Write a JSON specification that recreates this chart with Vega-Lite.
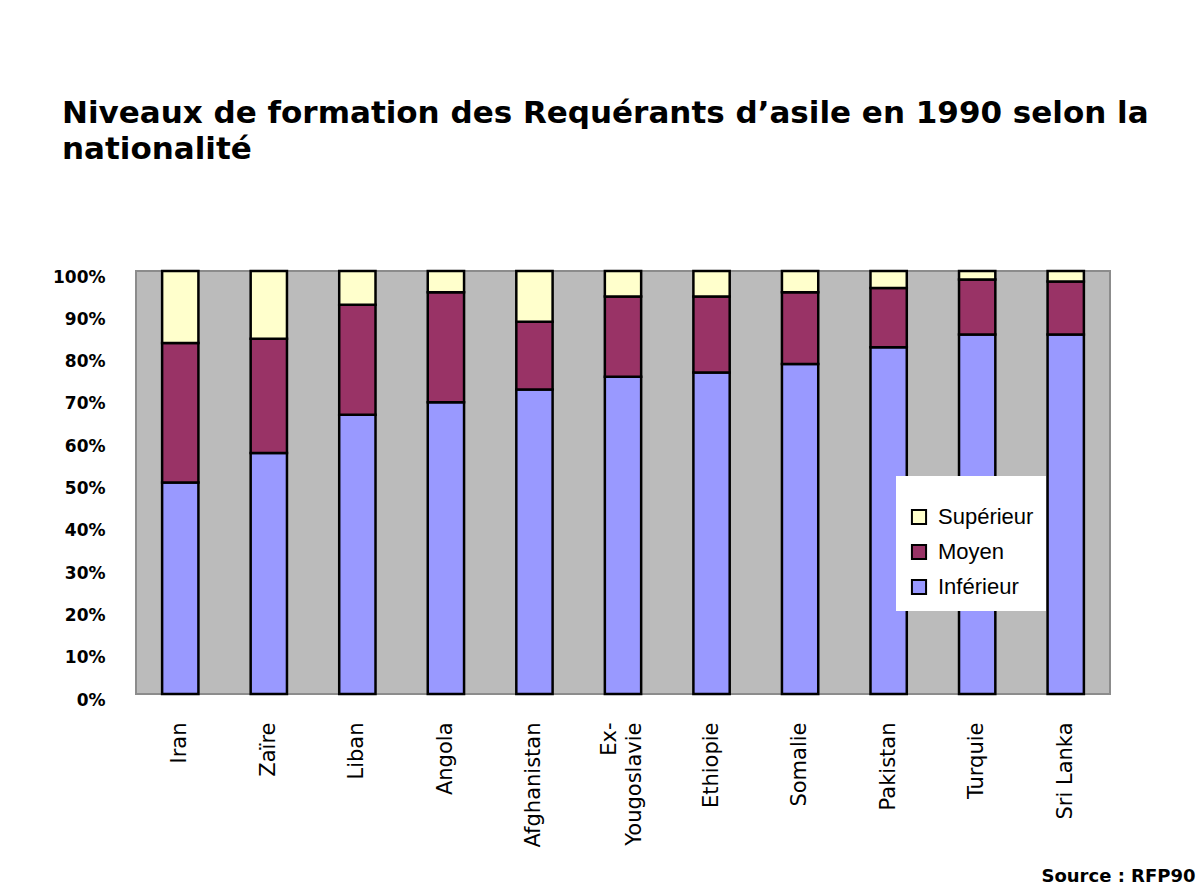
{
  "$schema": "https://vega.github.io/schema/vega-lite/v6.json",
  "autosize": {"type": "none"},
  "width": 974,
  "height": 423,
  "padding": {"left": 136, "top": 271, "right": 86, "bottom": 196},
  "background": "white",
  "title": {
    "text": ["Niveaux de formation des Requérants d’asile en 1990 selon la", "nationalité"],
    "anchor": "start",
    "frame": "group",
    "dx": -74,
    "offset": 102,
    "font": "DejaVu Sans",
    "fontSize": 31,
    "fontWeight": "bold",
    "lineHeight": 36,
    "color": "black"
  },
  "data": {
    "values": [
      {"pays": "Iran", "niveau": "Inférieur", "pct": 50},
      {"pays": "Iran", "niveau": "Moyen", "pct": 33},
      {"pays": "Iran", "niveau": "Supérieur", "pct": 17},
      {"pays": "Zaïre", "niveau": "Inférieur", "pct": 57},
      {"pays": "Zaïre", "niveau": "Moyen", "pct": 27},
      {"pays": "Zaïre", "niveau": "Supérieur", "pct": 16},
      {"pays": "Liban", "niveau": "Inférieur", "pct": 66},
      {"pays": "Liban", "niveau": "Moyen", "pct": 26},
      {"pays": "Liban", "niveau": "Supérieur", "pct": 8},
      {"pays": "Angola", "niveau": "Inférieur", "pct": 69},
      {"pays": "Angola", "niveau": "Moyen", "pct": 26},
      {"pays": "Angola", "niveau": "Supérieur", "pct": 5},
      {"pays": "Afghanistan", "niveau": "Inférieur", "pct": 72},
      {"pays": "Afghanistan", "niveau": "Moyen", "pct": 16},
      {"pays": "Afghanistan", "niveau": "Supérieur", "pct": 12},
      {"pays": "Ex-Yougoslavie", "niveau": "Inférieur", "pct": 75},
      {"pays": "Ex-Yougoslavie", "niveau": "Moyen", "pct": 19},
      {"pays": "Ex-Yougoslavie", "niveau": "Supérieur", "pct": 6},
      {"pays": "Ethiopie", "niveau": "Inférieur", "pct": 76},
      {"pays": "Ethiopie", "niveau": "Moyen", "pct": 18},
      {"pays": "Ethiopie", "niveau": "Supérieur", "pct": 6},
      {"pays": "Somalie", "niveau": "Inférieur", "pct": 78},
      {"pays": "Somalie", "niveau": "Moyen", "pct": 17},
      {"pays": "Somalie", "niveau": "Supérieur", "pct": 5},
      {"pays": "Pakistan", "niveau": "Inférieur", "pct": 82},
      {"pays": "Pakistan", "niveau": "Moyen", "pct": 14},
      {"pays": "Pakistan", "niveau": "Supérieur", "pct": 4},
      {"pays": "Turquie", "niveau": "Inférieur", "pct": 85},
      {"pays": "Turquie", "niveau": "Moyen", "pct": 13},
      {"pays": "Turquie", "niveau": "Supérieur", "pct": 2},
      {"pays": "Sri Lanka", "niveau": "Inférieur", "pct": 85},
      {"pays": "Sri Lanka", "niveau": "Moyen", "pct": 12.5},
      {"pays": "Sri Lanka", "niveau": "Supérieur", "pct": 2.5}
    ]
  },
  "mark": {"type": "bar", "stroke": "black", "strokeWidth": 2.5},
  "encoding": {
    "x": {
      "field": "pays",
      "type": "nominal",
      "sort": null,
      "scale": {"paddingInner": 0.59, "paddingOuter": 0.295},
      "axis": {
        "title": "Source : RFP90",
        "titleX": 1059,
        "titleY": 187,
        "titleAlign": "right",
        "titleAnchor": null,
        "titleBaseline": "alphabetic",
        "titleFont": "DejaVu Sans",
        "titleFontSize": 18,
        "titleFontWeight": "bold",
        "titleColor": "black",
        "labelAngle": -90,
        "labelAlign": "right",
        "labelBaseline": "middle",
        "labelFont": "DejaVu Sans",
        "labelFontSize": 21,
        "labelColor": "black",
        "labelPadding": 28,
        "labelLineHeight": 25,
        "labelOffset": {"condition": {"test": "datum.value == 'Ex-Yougoslavie'", "value": -13}, "value": 0},
        "labelExpr": "datum.value == 'Ex-Yougoslavie' ? ['Ex-', 'Yougoslavie'] : datum.label",
        "labelLimit": 300,
        "ticks": false,
        "domain": false,
        "grid": false
      }
    },
    "y": {
      "field": "pct",
      "type": "quantitative",
      "stack": "normalize",
      "scale": {"domain": [0, 1], "nice": false},
      "axis": {
        "title": null,
        "format": ".0%",
        "values": [0, 0.1, 0.2, 0.3, 0.4, 0.5, 0.6, 0.7, 0.8, 0.9, 1],
        "labelFont": "DejaVu Sans",
        "labelFontSize": 17,
        "labelFontWeight": "bold",
        "labelColor": "black",
        "labelPadding": 31,
        "labelOffset": 6,
        "ticks": false,
        "domain": false,
        "grid": false
      }
    },
    "color": {
      "field": "niveau",
      "type": "nominal",
      "scale": {
        "domain": ["Supérieur", "Moyen", "Inférieur"],
        "range": ["#FFFFCC", "#993366", "#9999FF"]
      },
      "legend": {
        "title": " ",
        "titleFontSize": 12,
        "titlePadding": 6,
        "orient": "none",
        "legendX": 760,
        "legendY": 205,
        "fillColor": "white",
        "padding": 12,
        "symbolType": "square",
        "symbolSize": 200,
        "symbolStrokeColor": "black",
        "symbolStrokeWidth": 2,
        "labelFont": "Liberation Sans",
        "labelFontSize": 22,
        "labelColor": "black",
        "labelOffset": 8,
        "rowPadding": 11
      }
    },
    "order": {"field": "niveau", "sort": "ascending"}
  },
  "config": {
    "view": {"fill": "#BBBBBB", "stroke": "#8C8C8C", "strokeWidth": 2}
  }
}
